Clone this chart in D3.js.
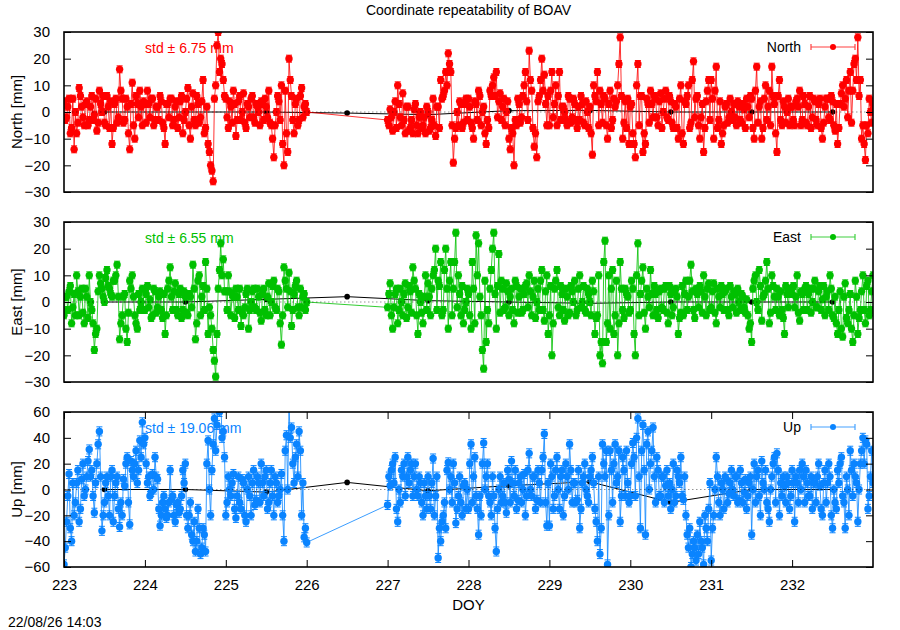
<!DOCTYPE html>
<html>
<head>
<meta charset="utf-8">
<script src="https://cdn.jsdelivr.net/npm/d3@7/dist/d3.min.js"></script>
<style>
body { margin: 0; background: #fff; }
text { font-family: "Liberation Sans", Arial, sans-serif; }
</style>
</head>
<body>
<div class="chart"></div>
<script>
var title = "Coordinate repeatability of BOAV";
var stamp = "22/08/26 14:03";
var dayTicks = [223, 224, 225, 226, 227, 228, 229, 230, 231, 232];
var northTicks = [-30, -20, -10, 0, 10, 20, 30];
var eastTicks = [-30, -20, -10, 0, 10, 20, 30];
var upTicks = [-60, -40, -20, 0, 20, 40, 60];
var stdText = ["std \u00b1 6.75 mm", "std \u00b1 6.55 mm", "std \u00b1 19.06 mm"];

// two blocks of epochs, 32 per day: 223.0-226.0 and 227.0-233.0
// the *2 arrays are the epochs half a step later
var startA = 223, startB = 227, perDay = 32;

var northA = [
  4, -2, 5, -6, -14, -8, 9, 2, -5, 4, -3, 6, -1, -7, 8, 0, -4, 6, -6, -12, 3, -4, 16, 5, -3, 2, -14, 11, -10, 3, 8, -5,
  3, 8, -2, 5, -3, 2, 6, -4, -12, 3, 5, -5, 2, -6, 4, -8, 0, 9, -10, 7, -5, 3, -2, 12, -6, -12, -20, -26, 10, 30, 20, 12,
  5, -6, 2, 8, -9, 4, -3, 7, -6, 2, 5, -2, 3, 0, 4, -3, 2, 8, -5, -17, 0, 4, 10, -20, -8, 20, 6, -8, 5, -3, 9, 2,
  0];
var northA2 = [
  -3, 2, -8, 5, 0, -4, 6, -2, 3, -5, 2, -3, 5, -4, 3, 6, -5, 2, 4, -6, 5, -2, 8, -4, 5, -8, 3, -5, 6, -2, 2, 4,
  -4, 3, 5, -5, 2, -3, 4, -6, 3, -2, 5, -3, 4, -2, 6, -3, 5, -5, 2, -3, 6, -4, 4, -8, 2, -15, -22, 5, 25, 15, 18, 6,
  -2, 4, -4, 3, -3, 6, 0, -4, 3, -2, 6, -4, 2, -5, 3, 5, -2, -4, -10, -5, 6, -3, -12, 8, -15, 12, -3, 3, -5, 6, -2, 3];
var northB = [
  -3, 1, -7, 4, 10, -2, 7, -8, 2, -6, -8, 3, -8, 0, -5, -8, 0, -6, 5, -9, 2, 12, 6, 15, 22, 15, -19, -6, -5, 3, -4, 5,
  5, -4, -10, 3, 8, -5, 2, -12, -6, 6, 13, 15, 4, -3, 5, 0, -10, -6, -20, -5, 3, -2, 10, 4, 23, 8, -13, -17, 6, 20, 14, -5,
  -5, 15, 3, -5, 15, 2, 0, -5, 5, -2, 3, -6, -3, 3, -5, 0, 2, -16, 6, 15, 8, -4, 5, -10, 8, -3, 2, 10, 28, -10, 4, 5,
  2, -8, -17, 18, 6, -15, -12, 3, 8, -2, 5, -5, 7, 0, 8, -3, 4, -6, 2, -10, 10, -12, 3, 10, -4, 19, 5, -5, -2, -15, 4, 12,
  12, -10, 17, -3, -12, -5, 3, -2, 0, 3, -5, 2, -4, 1, 5, -2, 5, -10, 17, 2, -10, 5, -3, 8, 17, 3, -15, 12, -5, 2, 0, -5,
  2, -5, 5, 8, -3, 3, -5, 6, -2, 4, -5, 5, -10, 2, 5, -3, 4, -7, -12, 3, 10, 5, -2, 15, 8, 20, 28, 12, -5, -18, -8, 0, 3];
var northB2 = [
  -5, -2, 0, -6, 3, -5, -3, 2, -7, -3, 1, -5, -2, -6, -2, 2, -7, -3, -5, 2, -6, 5, 8, 10, 18, -5, -10, 0, 4, -6, 3, -3,
  2, -6, 4, -3, 6, 0, -8, -3, 8, 10, 6, -2, 7, 2, -5, 4, -14, -8, -3, 5, -4, 6, 15, -3, 12, -6, -8, 4, 12, 8, 3, 6,
  8, -2, 10, 6, -3, 2, -3, 6, -4, 5, -3, 2, 6, -4, 4, -6, -8, 10, 4, -5, 3, 6, -5, 3, -6, 5, 4, 18, 6, -4, -6, -12,
  3, -12, 10, -5, 6, -8, 5, -4, 3, 6, -2, 4, -6, 5, -2, 6, -4, 3, -6, 5, -8, 4, 6, -6, 12, -2, 6, -10, 3, -6, 8, -3,
  5, 8, -6, 4, -8, 2, -4, 5, -3, -2, 4, -3, 3, -6, 2, 6, -6, 8, -4, 4, -6, 10, 2, -5, 6, -8, 6, -3, 4, -4, 5, 2,
  -3, 4, 2, -5, 6, -4, 2, -6, 5, -3, 3, -6, -4, 5, -2, 6, -5, 3, -6, 7, 2, 12, 8, -4, 18, 12, 6, -10, -12, -5, 5, -4];

var eastA = [
  -5, 2, 4, -8, 3, 10, -5, 5, -8, 2, 10, -3, -18, -10, 10, 5, 0, 12, 5, 2, 8, 14, -14, -5, 3, -15, 8, 10, -5, -10, -3, 5,
  -3, 6, 1, -5, 4, -2, 4, -6, -12, 5, 13, -3, 7, -5, 5, -3, 2, -5, 2, 14, -14, 8, -5, 6, 15, -12, -5, -18, -28, 5, 22, 16,
  4, 10, -5, 2, 5, -3, -9, -5, 3, -10, 0, 5, -3, 2, -7, 5, -5, 7, 0, 8, -3, 4, -16, 13, 5, 11, -9, 3, 8, -5, -2, 3,
  0];
var eastA2 = [
  2, -3, 6, -2, -5, 4, 2, -4, 5, -6, 0, -8, -12, 4, 7, 2, 9, 6, 3, 8, 10, 2, -8, 2, -10, -4, 5, 2, -8, 3, 0, -3,
  3, -2, -6, 5, -4, 2, -3, 3, -5, 8, 2, 4, -3, 3, -6, 4, -4, 3, -2, 5, -8, 10, 2, -3, 5, -2, -10, -22, -12, 12, 10, 4,
  -3, 4, 3, -6, 2, 5, -4, -2, 5, -3, 4, -2, 5, -4, 3, -3, 2, -5, 6, -2, 5, -8, -5, 8, -2, 4, -3, 6, -2, 5, 2, -3];
var eastB = [
  -2, 7, -10, 3, -8, 5, -5, 7, -2, 4, 13, 5, -12, 0, -8, 10, 7, -5, 10, 20, 8, 15, -3, 20, -10, 15, 5, 26, 10, -5, -8, 0,
  3, -10, 5, 25, 22, -5, -25, -15, -8, 12, 26, -10, 18, 8, -3, 7, -5, 5, -8, 6, 2, -4, 3, 7, 10, -5, 8, 0, -3, 12, -7, 10,
  -5, -20, 5, 12, -5, 3, -7, 2, -4, 4, 8, -3, 10, 0, -3, 5, 0, 8, -12, -5, -20, -23, 23, -8, -10, 12, -5, -20, 15, -3, 5, 2,
  -3, 5, -20, 22, 3, 13, -10, 2, 12, -5, 3, -6, 5, -3, 6, -8, 3, -2, 5, -12, -4, -5, 8, 2, 14, -3, 5, -2, 4, 10, -5, 7,
  -2, 7, -8, 2, 6, -3, 5, -5, 2, 4, -4, 0, 3, -2, 1, -10, -15, 8, 0, 12, -7, 3, 15, -8, 10, 2, 5, -5, -3, -12, 3, 5,
  3, -2, 10, -7, 3, 5, -3, 5, 0, 8, -2, 6, 1, -5, 4, 10, -5, 2, -12, 4, -13, 7, -8, 3, -15, 8, -12, -3, 10, -8, 8, -3, 10];
var eastB2 = [
  3, -5, -2, 5, -3, 0, 3, -6, 6, -4, 8, -5, 3, -4, 2, -3, 2, 5, 12, -3, 6, -5, 12, 5, 8, -5, 15, -2, 3, 6, -3, 5,
  -5, 15, -8, 10, 2, -18, 8, -3, 5, 20, 3, 6, -4, 5, -2, 4, 2, -3, 8, -4, 5, -3, 6, -2, 4, 2, -6, 5, 8, -3, 4, -12,
  6, -8, 8, -2, 6, -3, 5, -5, 6, 0, -5, 5, -2, 6, -4, 3, -5, 4, -6, 10, -15, 15, -15, 10, 5, -12, 8, -8, 5, -6, 3, -4,
  8, -12, 10, -5, 8, -4, 5, -2, 3, 6, -3, 4, -2, 5, -4, 6, -5, 4, 2, -6, 6, 3, -3, 8, 4, -6, 3, 6, -4, 2, 5, -3,
  4, -4, 5, -2, 3, 4, -3, 6, -2, 3, 5, -3, 2, -4, -5, -8, 5, 10, -3, 6, 2, 8, 5, -4, 6, -3, 2, 4, -6, 6, -2, 3,
  6, 2, -4, 4, -3, 6, 3, -4, 5, -2, 4, -3, 6, 2, -3, 5, -6, -8, -3, -10, 2, -6, -3, -10, -5, 2, -6, 4, -3, 6, -5, 4];

var upA = [
  -58, -25, 12, -40, -20, 5, -25, 8, -5, 10, 31, 15, -18, 20, 45, -32, -10, 10, -20, 15, -5, 10, -29, -20, 3, 25, -27, 15, 20, 5, 38, 52,
  40, 5, -5, 12, 25, 8, -28, -10, -15, -20, 15, -5, -25, -10, -15, 15, 20, -30, -10, -40, -48, -15, -50, -30, -48, 38, -20, 35, 30, 65, 70, 45,
  -20, 10, -5, 12, -22, 10, -15, 5, -25, 10, -20, 15, -8, 5, 20, -5, 15, -10, 15, -20, 5, -5, 12, -40, 42, 65, 48, 5, 35, 45, -20, -37,
  -41];
var upA2 = [
  -45, -5, -30, 5, -10, 15, -15, 20, 0, 22, 10, -5, 5, 35, 10, -20, 5, -5, 10, -25, 5, -15, -10, 8, 20, -10, 22, 10, 30, 15, 25, 35,
  20, 10, -2, 0, 10, -15, -20, -5, -22, -10, -8, -20, -12, -18, -5, 5, -20, -20, -35, -25, -40, -30, -45, -35, 20, 0, 15, 55, 50, 60, 40, 25,
  -10, 0, 5, -15, -5, -10, 8, -20, 0, -5, 5, -12, 10, -10, 5, 10, -15, 5, -5, 10, -10, 0, -20, 30, 0, 40, 20, 25, 10, 30, 5, -30];
var upB = [
  -12, 3, 20, 25, -25, -10, 10, -5, 25, 15, -5, 20, -5, 5, -20, -5, 10, -15, 24, -5, -53, -40, -20, -30, 21, 10, 20, -26, -5, -10, 3, -15,
  -15, 35, 10, -5, -35, -20, 36, 10, -5, -20, -5, -48, 0, -10, 5, -18, 8, 22, -5, -15, 5, -10, 12, -5, 28, -5, 10, -8, 5, 15, 43, -28,
  -28, 10, -5, 25, -15, 15, -5, 10, 35, -10, 5, -8, -30, 5, 20, -5, 10, 25, -15, -40, -50, 35, 10, -58, 30, -10, 35, 10, -25, 25, -5, 5,
  -5, 36, -5, 55, -30, 50, -35, 45, 20, 48, -10, 15, -5, 10, 3, -5, -15, 20, -5, 10, 25, -8, -20, -45, -60, -40, -55, -50, -40, -58, -30, -15,
  -55, -20, 25, -10, 5, -15, 8, -3, 15, -5, 10, -8, 5, -2, -15, 5, -35, 20, 10, -5, 22, 0, -10, -25, 10, 25, 28, -20, -5, 3, 10, -15,
  15, -25, 5, 15, 20, -10, 5, -5, -15, 5, 10, 3, -20, 15, 5, 10, -30, -10, 15, 20, -5, -30, 0, 30, -5, 10, -25, 20, 40, 38, -15, 10, 5];
var upB2 = [
  10, 15, 5, -15, 0, 15, 20, 10, 5, 20, 10, 0, 10, -10, 5, -15, -5, 5, -20, 10, -30, -25, -10, 15, 0, -10, 5, -15, 10, -20, 5, 0,
  20, -10, 25, -15, -5, 20, 0, 20, -10, 10, -30, -15, 10, -5, -10, 15, -10, 5, 15, -8, 10, 0, -20, 15, 0, 10, -15, 15, -10, 25, -10, 5,
  20, -15, 15, 0, 10, -20, 20, 0, 15, 5, -10, 15, -15, 10, 0, -10, 15, 5, -25, 10, -30, 20, 30, -20, 15, 20, 5, 30, -5, 15, 30, -10,
  20, 25, 40, 10, 30, 15, 35, 0, 30, 10, 25, -5, 10, -10, 15, 5, 0, -10, 15, 5, -5, 10, -35, -30, -50, -45, -35, -25, -45, -20, -40, 5,
  -30, 0, 10, -20, 0, 10, -10, 5, 0, 10, -10, 15, -10, 8, -5, 10, 0, -10, 15, -20, 5, 15, -15, 0, 20, -10, 15, 5, 10, -10, 5, -5,
  5, 10, -10, 0, 10, 15, -5, 10, 5, -10, 20, -15, 5, -10, 20, -20, 0, -15, 5, 25, -10, 10, -20, 15, 20, 5, 0, 30, 20, 35, -5, 30];

// daily means (black)
var meanDays = [223.5, 224.5, 225.5, 226.5, 227.5, 228.5, 229.5, 230.5, 231.5, 232.5];
var northMean = [0, 0, 0, -0.4, -1, 0.5, 0.6, 0, 0, 0];
var eastMean = [0, 0, 1, 2, 0.5, 0, -0.5, 0, 0, 0];
var upMean = [0, 0, -2, 5.5, -1, 3, 6, -10, 0, 0];

var left = 64, right = 873;

var buildPoints = function (lists) {
    var pts = [];
    lists.forEach(function (l) {
        l[0].forEach(function (v, i) { pts.push({ day: l[1] + (i + l[2]) / perDay, value: v }); });
    });
    pts.sort(function (a, b) { return a.day - b.day; });
    return pts;
};

var panels = [
    { name: "North", label: "North [mm]", color: "#ff0000", top: 32, bottom: 192, ticks: northTicks,
      pts: buildPoints([[northA, startA, 0], [northA2, startA, 0.5], [northB, startB, 0], [northB2, startB, 0.5]]),
      mean: northMean, sigma: 1.3, std: stdText[0], xAxis: false },
    { name: "East", label: "East [mm]", color: "#00c000", top: 222, bottom: 382, ticks: eastTicks,
      pts: buildPoints([[eastA, startA, 0], [eastA2, startA, 0.5], [eastB, startB, 0], [eastB2, startB, 0.5]]),
      mean: eastMean, sigma: 1.3, std: stdText[1], xAxis: false },
    { name: "Up", label: "Up [mm]", color: "#0a84ff", top: 412, bottom: 567, ticks: upTicks,
      pts: buildPoints([[upA, startA, 0], [upA2, startA, 0.5], [upB, startB, 0], [upB2, startB, 0.5]]),
      mean: upMean, sigma: 3.5, std: stdText[2], xAxis: true }
];

var svg = d3.select(".chart").append("svg")
    .attr("width", 900)
    .attr("height", 630);

svg.append("text")
    .attr("x", (left + right) / 2).attr("y", 15)
    .attr("text-anchor", "middle")
    .attr("font-size", 14)
    .text(title);

var x = d3.scaleLinear().domain([223, 233]).range([left, right]);

var drawPanel = function (p, n) {
    var y = d3.scaleLinear().domain([p.ticks[0], p.ticks[p.ticks.length - 1]]).range([p.bottom, p.top]);
    var g = svg.append("g");

    svg.append("clipPath").attr("id", "clip" + n)
        .append("rect")
        .attr("x", left).attr("y", p.top)
        .attr("width", right - left).attr("height", p.bottom - p.top);

    g.append("text")
        .attr("x", 145).attr("y", p.top + 21)
        .attr("fill", p.color)
        .attr("font-size", 14)
        .text(p.std);

    var plot = g.append("g").attr("clip-path", "url(#clip" + n + ")");

    var line = d3.line()
        .x(function (d) { return x(d.day); })
        .y(function (d) { return y(d.value); });

    // daily means underneath
    var means = meanDays.map(function (d, i) { return { day: d, value: p.mean[i] }; });
    plot.append("path")
        .datum(means)
        .attr("d", line)
        .attr("fill", "none")
        .attr("stroke", "#000")
        .attr("stroke-width", 1);
    plot.selectAll(".mean")
        .data(means)
        .enter()
        .append("circle")
        .attr("cx", function (d) { return x(d.day); })
        .attr("cy", function (d) { return y(d.value); })
        .attr("r", 2.8)
        .attr("fill", "#000");

    plot.append("path")
        .datum(p.pts)
        .attr("d", line)
        .attr("fill", "none")
        .attr("stroke", p.color)
        .attr("stroke-opacity", 0.8)
        .attr("stroke-width", 1);

    plot.selectAll(".eb")
        .data(p.pts)
        .enter()
        .append("path")
        .attr("d", function (d) {
            var cx = x(d.day), y1 = y(d.value - p.sigma), y2 = y(d.value + p.sigma);
            return "M" + cx + "," + y1 + "V" + y2 +
                "M" + (cx - 3) + "," + y1 + "H" + (cx + 3) +
                "M" + (cx - 3) + "," + y2 + "H" + (cx + 3);
        })
        .attr("stroke", p.color)
        .attr("stroke-width", 1)
        .attr("fill", "none");

    plot.selectAll(".pt")
        .data(p.pts)
        .enter()
        .append("circle")
        .attr("cx", function (d) { return x(d.day); })
        .attr("cy", function (d) { return y(d.value); })
        .attr("r", 3.7)
        .attr("fill", p.color);

    plot.append("line")
        .attr("x1", left).attr("x2", right)
        .attr("y1", y(0)).attr("y2", y(0))
        .attr("stroke", "#000")
        .attr("stroke-opacity", 0.6)
        .attr("stroke-width", 0.7)
        .attr("stroke-dasharray", "1.5,2.5");

    // legend
    var ly = p.top + 15;
    g.append("text")
        .attr("x", 801).attr("y", ly + 5)
        .attr("text-anchor", "end")
        .attr("font-size", 14)
        .text(p.name);
    g.append("path")
        .attr("d", "M811," + ly + "H855M811," + (ly - 3) + "V" + (ly + 3) + "M855," + (ly - 3) + "V" + (ly + 3))
        .attr("stroke", p.color)
        .attr("stroke-opacity", 0.75)
        .attr("stroke-width", 1.2)
        .attr("fill", "none");
    g.append("circle")
        .attr("cx", 833).attr("cy", ly)
        .attr("r", 3)
        .attr("fill", p.color);

    // axes, ticks inside
    g.append("g")
        .attr("transform", "translate(" + left + ",0)")
        .call(d3.axisLeft(y).tickValues(p.ticks).tickSize(-7).tickPadding(14))
        .call(function (a) {
            a.select(".domain").remove();
            a.selectAll("text").attr("font-size", 15).attr("font-family", "Liberation Sans, Arial, sans-serif").attr("fill", "#000");
        });
    g.append("g")
        .attr("transform", "translate(" + right + ",0)")
        .call(d3.axisRight(y).tickValues(p.ticks).tickSize(-7).tickFormat(""))
        .call(function (a) { a.select(".domain").remove(); });

    if (p.xAxis) {
        g.append("g")
            .attr("transform", "translate(0," + p.bottom + ")")
            .call(d3.axisBottom(x).tickValues(dayTicks).tickSize(-7).tickPadding(12).tickFormat(d3.format("d")))
            .call(function (a) {
                a.select(".domain").remove();
                a.selectAll("text").attr("font-size", 15).attr("font-family", "Liberation Sans, Arial, sans-serif").attr("fill", "#000");
            });
        g.append("g")
            .attr("transform", "translate(0," + p.top + ")")
            .call(d3.axisTop(x).tickValues(dayTicks).tickSize(-7).tickFormat(""))
            .call(function (a) { a.select(".domain").remove(); });
    }

    g.append("rect")
        .attr("x", left).attr("y", p.top)
        .attr("width", right - left).attr("height", p.bottom - p.top)
        .attr("fill", "none")
        .attr("stroke", "#000")
        .attr("stroke-width", 1.6);

    g.append("text")
        .attr("transform", "translate(22," + (p.top + p.bottom) / 2 + ") rotate(-90)")
        .attr("text-anchor", "middle")
        .attr("font-size", 15)
        .text(p.label);
};

panels.forEach(drawPanel);

svg.append("text")
    .attr("x", (left + right) / 2).attr("y", 610)
    .attr("text-anchor", "middle")
    .attr("font-size", 15)
    .text("DOY");

svg.append("text")
    .attr("x", 8).attr("y", 627)
    .attr("font-size", 14)
    .text(stamp);
</script>
</body>
</html>
